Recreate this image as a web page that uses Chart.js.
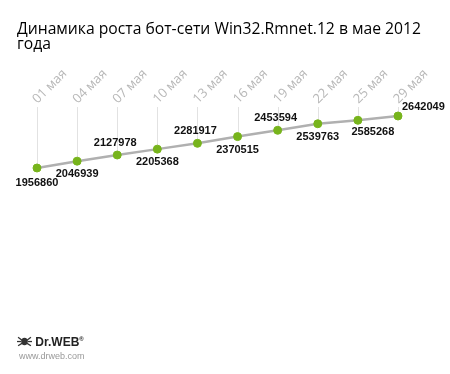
<!DOCTYPE html>
<html>
<head>
<meta charset="utf-8">
<script src="https://cdn.jsdelivr.net/npm/chart.js@4"></script>
<style>
  body { margin: 0; background: #fff; }
  #wrap { position: relative; width: 450px; height: 374px; overflow: hidden; }
  #title { position: absolute; left: 17px; top: 21px; white-space: nowrap; font-family: "Open Sans", sans-serif; font-size: 15.7px; line-height: 15px; color: #000; }
  #chart { position: absolute; left: 0; top: 0; }
  #logo { position: absolute; left: 17px; top: 335px; font-family: "Liberation Sans", Arial, sans-serif; }
  #logo .brand { font-weight: bold; font-size: 12px; color: #222; }
  #logo .url { font-size: 9px; color: #999; margin-top: 2px; margin-left: 2px; }
</style>
</head>
<body>
<div id="wrap">
  <canvas id="chart" width="450" height="374"></canvas>
  <div id="title">Динамика роста бот-сети Win32.Rmnet.12 в мае 2012<br>года</div>
  <div id="logo">
    <div class="brand"><svg width="15" height="12" viewBox="0 0 14 11" style="vertical-align:-1px"><ellipse cx="7" cy="6" rx="3" ry="3.5" fill="#333"/><g stroke="#333" stroke-width="1.2"><line x1="1" y1="2" x2="5" y2="5"/><line x1="13" y1="2" x2="9" y2="5"/><line x1="0" y1="6" x2="4" y2="6"/><line x1="14" y1="6" x2="10" y2="6"/><line x1="1" y1="10" x2="5" y2="7.5"/><line x1="13" y1="10" x2="9" y2="7.5"/></g></svg> Dr.WEB<sup style="font-size:6px">®</sup></div>
    <div class="url">www.drweb.com</div>
  </div>
</div>
<script>
const dates = ['01 мая', '04 мая', '07 мая', '10 мая', '13 мая', '16 мая', '19 мая', '22 мая', '25 мая', '29 мая'];
const bots = [1956860, 2046939, 2127978, 2205368, 2281917, 2370515, 2453594, 2539763, 2585268, 2642049];
// where each value label sits relative to its point
const labelSide = ['below', 'below', 'above', 'below', 'above', 'below', 'above', 'below', 'belowRight', 'aboveRight'];

const yMin = 217500;
const yMax = 2760600;

const dropLines = {
    id: 'dropLines',
    beforeDatasetsDraw(chart) {
        const ctx = chart.ctx;
        const top = chart.chartArea.top;
        const pts = chart.getDatasetMeta(0).data;
        ctx.save();
        ctx.strokeStyle = '#e2e2e2';
        ctx.lineWidth = 1;
        pts.forEach(p => {
            const x = Math.round(p.x) + 0.5;
            ctx.beginPath();
            ctx.moveTo(x, top);
            ctx.lineTo(x, p.y);
            ctx.stroke();
        });
        ctx.restore();
    }
};

const valueLabels = {
    id: 'valueLabels',
    afterDatasetsDraw(chart) {
        const ctx = chart.ctx;
        const pts = chart.getDatasetMeta(0).data;
        ctx.save();
        ctx.font = 'bold 11px "Liberation Sans", Arial, sans-serif';
        ctx.fillStyle = '#111';
        ctx.textBaseline = 'middle';
        pts.forEach((p, i) => {
            const txt = String(bots[i]);
            const side = labelSide[i];
            ctx.textAlign = 'center';
            if (side === 'above') {
                ctx.fillText(txt, p.x - 2, p.y - 12);
            } else if (side === 'aboveRight') {
                ctx.textAlign = 'left';
                ctx.fillText(txt, p.x + 4, p.y - 9);
            } else if (side === 'belowRight') {
                ctx.fillText(txt, p.x + 15, p.y + 12);
            } else {
                ctx.fillText(txt, p.x, p.y + (i === 0 ? 15 : 13));
            }
        });
        ctx.restore();
    }
};

const ctx = document.getElementById('chart').getContext('2d');
const growthChart = new Chart(ctx, {
    type: 'line',
    data: {
        labels: dates,
        datasets: [{
            label: 'Win32.Rmnet.12',
            data: bots,
            borderColor: '#b0b0b0',
            borderWidth: 2.5,
            tension: 0,
            pointRadius: 4,
            pointHoverRadius: 4,
            pointBackgroundColor: '#77b41c',
            pointBorderColor: '#77b41c',
            pointBorderWidth: 1
        }]
    },
    options: {
        responsive: false,
        animation: false,
        layout: {
            padding: { left: 37, right: 52, top: 0, bottom: 74 }
        },
        plugins: {
            legend: { display: false },
            title: { display: false },
            tooltip: { enabled: false }
        },
        scales: {
            x: {
                position: 'top',
                offset: false,
                grid: { display: false },
                border: { display: false },
                afterFit: s => { s.height = 107; },
                ticks: {
                    minRotation: 45,
                    maxRotation: 45,
                    padding: -8,
                    labelOffset: 9,
                    color: '#b8b8b8',
                    font: { family: '"Open Sans", sans-serif', size: 13 }
                }
            },
            y: {
                display: false,
                min: yMin,
                max: yMax
            }
        }
    },
    plugins: [dropLines, valueLabels]
});
</script>
</body>
</html>
